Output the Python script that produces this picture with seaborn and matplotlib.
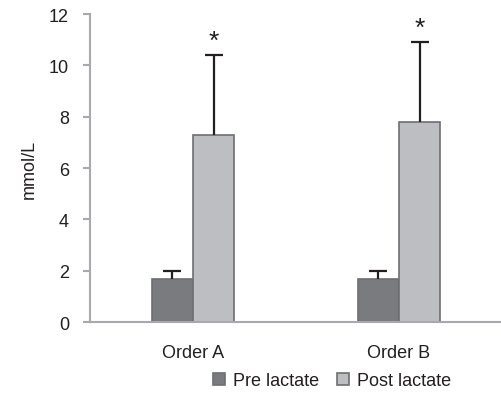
import numpy as np
import pandas as pd
import matplotlib
matplotlib.use("Agg")
import matplotlib.pyplot as plt
import seaborn as sns

orders = ["Order A", "Order B"]
groups = ["Pre lactate", "Post lactate"]
pre_mean = [1.7, 1.7]
pre_err = [0.3, 0.3]
post_mean = [7.3, 7.8]
post_err = [3.1, 3.1]
colors = ["#7a7b7e", "#bdbec1"]

df = pd.DataFrame({
    "order": orders * 2,
    "group": [groups[0]] * 2 + [groups[1]] * 2,
    "value": pre_mean + post_mean,
})
errs = {groups[0]: pre_err, groups[1]: post_err}

sns.set_style("white")
plt.rcParams["font.family"] = ["Liberation Sans", "DejaVu Sans"]

fig = plt.figure(figsize=(5.02, 4.06), dpi=100)
ax = fig.add_axes([0.179, 0.204, 0.821, 0.759])

sns.barplot(data=df, x="order", y="value", hue="group", hue_order=groups,
            palette=colors, width=0.4, edgecolor="#6d6e71", linewidth=1.2,
            errorbar=None, ax=ax, saturation=1)

# upward-only error bars + significance stars
for cont, g in zip(ax.containers, groups):
    for bar, e in zip(cont, errs[g]):
        x = bar.get_x() + bar.get_width() / 2
        h = bar.get_height()
        _, caps, _ = ax.errorbar(x, h, yerr=[[0], [e]], fmt="none", ecolor="#231f20",
                                 elinewidth=1.6, capsize=6.5, capthick=1.6)
        caps[0].set_visible(False)
        if g == groups[1]:
            ax.text(x, h + e + 0.1, "*", ha="center", va="bottom",
                    fontsize=19, color="#231f20")

ax.set_xlim(-0.5, 1.5)
ax.set_ylim(0, 12)
ax.set_yticks(range(0, 13, 2))
ax.set_xlabel("")
ax.set_ylabel("mmol/L", fontsize=13, color="#231f20", labelpad=8)
for s in ["top", "right"]:
    ax.spines[s].set_visible(False)
for s in ["left", "bottom"]:
    ax.spines[s].set_color("#a7a9ac")
    ax.spines[s].set_linewidth(1.5)
ax.tick_params(axis="y", left=True, length=5, width=1.5, color="#a7a9ac",
               labelsize=13, labelcolor="#231f20", pad=10)
ax.tick_params(axis="x", bottom=False, labelsize=13, labelcolor="#231f20", pad=12)

ax.legend(loc="upper center", bbox_to_anchor=(0.587, -0.11), ncol=2, frameon=False,
          fontsize=13, handlelength=0.7, handleheight=0.7, handletextpad=0.4,
          columnspacing=1.0, labelcolor="#231f20")

fig.savefig("out.png", dpi=100)
